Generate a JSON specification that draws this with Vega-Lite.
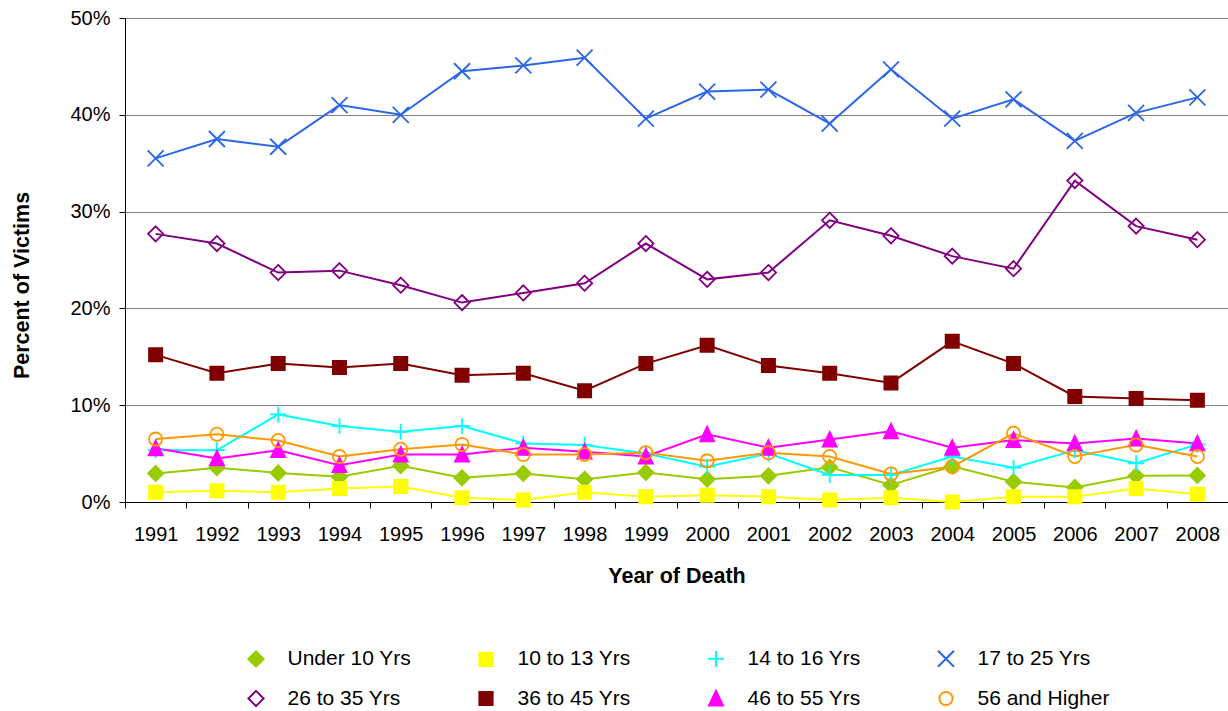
{
"$schema": "https://vega.github.io/schema/vega-lite/v6.json",
"width": 1103, "height": 484,
"autosize": {"type": "none"},
"padding": {"left": 125, "top": 18, "right": 0, "bottom": 209},
"background": "white",
"config": {"view": {"stroke": null}, "font": "Liberation Sans",
  "legend": {"orient": "none", "legendX": 103, "legendY": 630, "direction": "horizontal", "columns": 4,
    "labelFontSize": 21, "labelColor": "#000", "labelLimit": 300, "symbolSize": 64, "symbolStrokeWidth": 2,
    "symbolOffset": 17.5, "labelOffset": 21, "columnPadding": 38, "rowPadding": 15, "gridAlign": "all", "padding": 0}},
"datasets": {"d": [
{"s":"Under 10 Yrs","y":1991,"v":2.95},{"s":"Under 10 Yrs","y":1992,"v":3.55},{"s":"Under 10 Yrs","y":1993,"v":3.0},{"s":"Under 10 Yrs","y":1994,"v":2.6},{"s":"Under 10 Yrs","y":1995,"v":3.75},{"s":"Under 10 Yrs","y":1996,"v":2.5},{"s":"Under 10 Yrs","y":1997,"v":2.95},{"s":"Under 10 Yrs","y":1998,"v":2.35},{"s":"Under 10 Yrs","y":1999,"v":3.05},{"s":"Under 10 Yrs","y":2000,"v":2.35},{"s":"Under 10 Yrs","y":2001,"v":2.7},{"s":"Under 10 Yrs","y":2002,"v":3.6},{"s":"Under 10 Yrs","y":2003,"v":1.75},{"s":"Under 10 Yrs","y":2004,"v":3.7},{"s":"Under 10 Yrs","y":2005,"v":2.1},{"s":"Under 10 Yrs","y":2006,"v":1.5},{"s":"Under 10 Yrs","y":2007,"v":2.7},{"s":"Under 10 Yrs","y":2008,"v":2.75},
{"s":"10 to 13 Yrs","y":1991,"v":1.0},{"s":"10 to 13 Yrs","y":1992,"v":1.15},{"s":"10 to 13 Yrs","y":1993,"v":1.0},{"s":"10 to 13 Yrs","y":1994,"v":1.4},{"s":"10 to 13 Yrs","y":1995,"v":1.6},{"s":"10 to 13 Yrs","y":1996,"v":0.45},{"s":"10 to 13 Yrs","y":1997,"v":0.2},{"s":"10 to 13 Yrs","y":1998,"v":1.0},{"s":"10 to 13 Yrs","y":1999,"v":0.55},{"s":"10 to 13 Yrs","y":2000,"v":0.7},{"s":"10 to 13 Yrs","y":2001,"v":0.55},{"s":"10 to 13 Yrs","y":2002,"v":0.2},{"s":"10 to 13 Yrs","y":2003,"v":0.45},{"s":"10 to 13 Yrs","y":2004,"v":0.0},{"s":"10 to 13 Yrs","y":2005,"v":0.55},{"s":"10 to 13 Yrs","y":2006,"v":0.55},{"s":"10 to 13 Yrs","y":2007,"v":1.4},{"s":"10 to 13 Yrs","y":2008,"v":0.8},
{"s":"14 to 16 Yrs","y":1991,"v":5.35},{"s":"14 to 16 Yrs","y":1992,"v":5.35},{"s":"14 to 16 Yrs","y":1993,"v":9.05},{"s":"14 to 16 Yrs","y":1994,"v":7.85},{"s":"14 to 16 Yrs","y":1995,"v":7.25},{"s":"14 to 16 Yrs","y":1996,"v":7.85},{"s":"14 to 16 Yrs","y":1997,"v":6.05},{"s":"14 to 16 Yrs","y":1998,"v":5.9},{"s":"14 to 16 Yrs","y":1999,"v":5.0},{"s":"14 to 16 Yrs","y":2000,"v":3.65},{"s":"14 to 16 Yrs","y":2001,"v":5.0},{"s":"14 to 16 Yrs","y":2002,"v":2.8},{"s":"14 to 16 Yrs","y":2003,"v":2.8},{"s":"14 to 16 Yrs","y":2004,"v":4.7},{"s":"14 to 16 Yrs","y":2005,"v":3.55},{"s":"14 to 16 Yrs","y":2006,"v":5.35},{"s":"14 to 16 Yrs","y":2007,"v":4.0},{"s":"14 to 16 Yrs","y":2008,"v":5.95},
{"s":"17 to 25 Yrs","y":1991,"v":35.5},{"s":"17 to 25 Yrs","y":1992,"v":37.5},{"s":"17 to 25 Yrs","y":1993,"v":36.7},{"s":"17 to 25 Yrs","y":1994,"v":41.0},{"s":"17 to 25 Yrs","y":1995,"v":40.0},{"s":"17 to 25 Yrs","y":1996,"v":44.5},{"s":"17 to 25 Yrs","y":1997,"v":45.1},{"s":"17 to 25 Yrs","y":1998,"v":45.9},{"s":"17 to 25 Yrs","y":1999,"v":39.6},{"s":"17 to 25 Yrs","y":2000,"v":42.4},{"s":"17 to 25 Yrs","y":2001,"v":42.6},{"s":"17 to 25 Yrs","y":2002,"v":39.1},{"s":"17 to 25 Yrs","y":2003,"v":44.7},{"s":"17 to 25 Yrs","y":2004,"v":39.6},{"s":"17 to 25 Yrs","y":2005,"v":41.6},{"s":"17 to 25 Yrs","y":2006,"v":37.3},{"s":"17 to 25 Yrs","y":2007,"v":40.2},{"s":"17 to 25 Yrs","y":2008,"v":41.8},
{"s":"26 to 35 Yrs","y":1991,"v":27.7},{"s":"26 to 35 Yrs","y":1992,"v":26.7},{"s":"26 to 35 Yrs","y":1993,"v":23.7},{"s":"26 to 35 Yrs","y":1994,"v":23.9},{"s":"26 to 35 Yrs","y":1995,"v":22.4},{"s":"26 to 35 Yrs","y":1996,"v":20.6},{"s":"26 to 35 Yrs","y":1997,"v":21.6},{"s":"26 to 35 Yrs","y":1998,"v":22.6},{"s":"26 to 35 Yrs","y":1999,"v":26.7},{"s":"26 to 35 Yrs","y":2000,"v":23.0},{"s":"26 to 35 Yrs","y":2001,"v":23.7},{"s":"26 to 35 Yrs","y":2002,"v":29.1},{"s":"26 to 35 Yrs","y":2003,"v":27.5},{"s":"26 to 35 Yrs","y":2004,"v":25.4},{"s":"26 to 35 Yrs","y":2005,"v":24.1},{"s":"26 to 35 Yrs","y":2006,"v":33.2},{"s":"26 to 35 Yrs","y":2007,"v":28.5},{"s":"26 to 35 Yrs","y":2008,"v":27.1},
{"s":"36 to 45 Yrs","y":1991,"v":15.2},{"s":"36 to 45 Yrs","y":1992,"v":13.3},{"s":"36 to 45 Yrs","y":1993,"v":14.3},{"s":"36 to 45 Yrs","y":1994,"v":13.9},{"s":"36 to 45 Yrs","y":1995,"v":14.3},{"s":"36 to 45 Yrs","y":1996,"v":13.1},{"s":"36 to 45 Yrs","y":1997,"v":13.3},{"s":"36 to 45 Yrs","y":1998,"v":11.5},{"s":"36 to 45 Yrs","y":1999,"v":14.3},{"s":"36 to 45 Yrs","y":2000,"v":16.2},{"s":"36 to 45 Yrs","y":2001,"v":14.1},{"s":"36 to 45 Yrs","y":2002,"v":13.3},{"s":"36 to 45 Yrs","y":2003,"v":12.3},{"s":"36 to 45 Yrs","y":2004,"v":16.6},{"s":"36 to 45 Yrs","y":2005,"v":14.3},{"s":"36 to 45 Yrs","y":2006,"v":10.9},{"s":"36 to 45 Yrs","y":2007,"v":10.7},{"s":"36 to 45 Yrs","y":2008,"v":10.5},
{"s":"46 to 55 Yrs","y":1991,"v":5.55},{"s":"46 to 55 Yrs","y":1992,"v":4.5},{"s":"46 to 55 Yrs","y":1993,"v":5.35},{"s":"46 to 55 Yrs","y":1994,"v":3.8},{"s":"46 to 55 Yrs","y":1995,"v":4.9},{"s":"46 to 55 Yrs","y":1996,"v":4.9},{"s":"46 to 55 Yrs","y":1997,"v":5.6},{"s":"46 to 55 Yrs","y":1998,"v":5.2},{"s":"46 to 55 Yrs","y":1999,"v":4.7},{"s":"46 to 55 Yrs","y":2000,"v":7.0},{"s":"46 to 55 Yrs","y":2001,"v":5.6},{"s":"46 to 55 Yrs","y":2002,"v":6.45},{"s":"46 to 55 Yrs","y":2003,"v":7.3},{"s":"46 to 55 Yrs","y":2004,"v":5.6},{"s":"46 to 55 Yrs","y":2005,"v":6.4},{"s":"46 to 55 Yrs","y":2006,"v":6.05},{"s":"46 to 55 Yrs","y":2007,"v":6.55},{"s":"46 to 55 Yrs","y":2008,"v":6.05},
{"s":"56 and Higher","y":1991,"v":6.5},{"s":"56 and Higher","y":1992,"v":7.0},{"s":"56 and Higher","y":1993,"v":6.35},{"s":"56 and Higher","y":1994,"v":4.7},{"s":"56 and Higher","y":1995,"v":5.45},{"s":"56 and Higher","y":1996,"v":5.95},{"s":"56 and Higher","y":1997,"v":4.9},{"s":"56 and Higher","y":1998,"v":4.9},{"s":"56 and Higher","y":1999,"v":5.1},{"s":"56 and Higher","y":2000,"v":4.25},{"s":"56 and Higher","y":2001,"v":5.1},{"s":"56 and Higher","y":2002,"v":4.7},{"s":"56 and Higher","y":2003,"v":2.9},{"s":"56 and Higher","y":2004,"v":3.65},{"s":"56 and Higher","y":2005,"v":7.1},{"s":"56 and Higher","y":2006,"v":4.7},{"s":"56 and Higher","y":2007,"v":5.9},{"s":"56 and Higher","y":2008,"v":4.7}
]},
"data": {"name": "d"},
"encoding": {
  "x": {"field": "y", "type": "ordinal", "scale": {"type": "band", "paddingInner": 0, "paddingOuter": 0},
    "axis": {"title": "Year of Death", "labelAngle": 0, "labelFontSize": 20, "labelColor": "#000", "labelBaseline": "middle", "labelPadding": 26,
      "tickBand": "extent", "tickSize": 6, "tickColor": "#000", "domainColor": "#000", "grid": false,
      "titleFontSize": 21.5, "titleFontWeight": "bold", "titleColor": "#000", "titleBaseline": "middle", "titleY": 74}},
  "y": {"field": "v", "type": "quantitative", "scale": {"domain": [0, 50], "nice": false},
    "axis": {"title": "Percent of Victims", "values": [0, 10, 20, 30, 40, 50], "labelExpr": "datum.value + '%'",
      "labelFontSize": 20, "labelColor": "#000", "labelPadding": 9, "tickSize": 6, "tickColor": "#000", "domainColor": "#000",
      "grid": true, "gridColor": "#808080", "gridWidth": 1,
      "titleFontSize": 21.5, "titleFontWeight": "bold", "titleColor": "#000", "titleBaseline": "middle", "titleX": -103, "titleY": 267}}
},
"layer": [
  {"mark": {"type": "line", "strokeWidth": 2},
   "encoding": {"stroke": {"field": "s", "type": "nominal", "legend": {"title": null}}}},
  {"mark": {"type": "point", "size": 64, "strokeWidth": 1.8, "opacity": 1},
   "encoding": {
     "shape": {"field": "s", "type": "nominal",
       "scale": {"domain": ["Under 10 Yrs","10 to 13 Yrs","14 to 16 Yrs","17 to 25 Yrs","26 to 35 Yrs","36 to 45 Yrs","46 to 55 Yrs","56 and Higher"],
                 "range": ["M0,-1.9L1.9,0L0,1.9L-1.9,0Z","M-1.65,-1.65H1.65V1.65H-1.65Z","M-2,0H2M0,-2V2","M-2,-2L2,2M-2,2L2,-2","M0,-1.9L1.9,0L0,1.9L-1.9,0Z","M-1.65,-1.65H1.65V1.65H-1.65Z","M0,-1.9L1.75,1.75L-1.75,1.75Z","M1.65,0A1.65,1.65,0,1,1,-1.65,0A1.65,1.65,0,1,1,1.65,0Z"]},
       "legend": {"title": null}},
     "fill": {"field": "s", "type": "nominal",
       "scale": {"domain": ["Under 10 Yrs","10 to 13 Yrs","14 to 16 Yrs","17 to 25 Yrs","26 to 35 Yrs","36 to 45 Yrs","46 to 55 Yrs","56 and Higher"],
                 "range": ["#99CC00","#FFFF00","transparent","transparent","transparent","#800000","#FF00FF","transparent"]},
       "legend": {"title": null}},
     "stroke": {"field": "s", "type": "nominal",
       "scale": {"domain": ["Under 10 Yrs","10 to 13 Yrs","14 to 16 Yrs","17 to 25 Yrs","26 to 35 Yrs","36 to 45 Yrs","46 to 55 Yrs","56 and Higher"],
                 "range": ["#99CC00","#FFFF00","#00FFFF","#2A66E6","#800080","#800000","#FF00FF","#FF9900"]},
       "legend": {"title": null}}
   }}
]
}
